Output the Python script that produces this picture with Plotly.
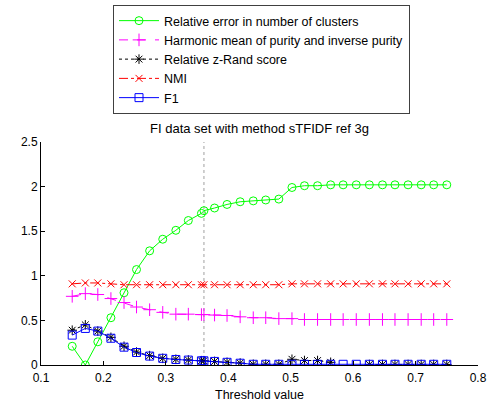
import plotly.graph_objects as go

# Threshold values (extra sample at the selected threshold 0.361)
threshold = [0.150, 0.171, 0.191, 0.212, 0.233, 0.253, 0.274, 0.295, 0.316, 0.336,
             0.357, 0.361, 0.378, 0.398, 0.419, 0.440, 0.460, 0.481, 0.502, 0.522,
             0.543, 0.564, 0.584, 0.605, 0.626, 0.647, 0.667, 0.688, 0.709, 0.729, 0.750]

rel_error = [0.21, 0.00, 0.26, 0.53, 0.81, 1.07, 1.28, 1.41, 1.51, 1.62,
             1.70, 1.73, 1.76, 1.80, 1.83, 1.84, 1.85, 1.86, 1.99, 2.01,
             2.01, 2.02, 2.02, 2.02, 2.02, 2.02, 2.02, 2.02, 2.02, 2.02, 2.02]

harmonic = [0.77, 0.80, 0.79, 0.745, 0.70, 0.65, 0.62, 0.59, 0.57, 0.57,
            0.565, 0.565, 0.56, 0.555, 0.54, 0.53, 0.53, 0.52, 0.52, 0.51,
            0.51, 0.51, 0.51, 0.51, 0.51, 0.51, 0.51, 0.51, 0.51, 0.51, 0.51]

zrand = [0.39, 0.45, 0.38, 0.31, 0.21, 0.145, 0.105, 0.075, 0.064, 0.056,
         0.048, 0.048, 0.04, 0.03, 0.022, 0.008, 0.008, 0.008, 0.064, 0.05,
         0.05, 0.03, None, None, 0.006, 0.006, 0.006, 0.006, 0.006, 0.006, 0.006]

nmi = [0.91, 0.92, 0.92, 0.91, 0.90, 0.90, 0.90, 0.90, 0.90, 0.90,
       0.90, 0.90, 0.90, 0.90, 0.90, 0.90, 0.90, 0.90, 0.91, 0.91,
       0.91, 0.91, 0.91, 0.91, 0.91, 0.91, 0.91, 0.91, 0.91, 0.91, 0.91]

f1 = [0.335, 0.41, 0.38, 0.30, 0.20, 0.14, 0.10, 0.075, 0.062, 0.055,
      0.047, 0.047, 0.04, 0.03, 0.02, 0.008, 0.008, 0.008, 0.008, 0.008,
      0.008, 0.008, 0.008, 0.008, 0.008, 0.008, 0.008, 0.008, 0.008, 0.008, 0.008]

selected_threshold = 0.361

x_ticks = [0.1, 0.2, 0.3, 0.4, 0.5, 0.6, 0.7, 0.8]
x_tick_text = ["0.1", "0.2", "0.3", "0.4", "0.5", "0.6", "0.7", "0.8"]
y_ticks = [0, 0.5, 1, 1.5, 2, 2.5]
y_tick_text = ["0", "0.5", "1", "1.5", "2", "2.5"]

FONT = "Liberation Sans, Arial, sans-serif"

fig = go.Figure()

fig.add_trace(go.Scatter(
    x=threshold, y=rel_error, name="Relative error in number of clusters",
    mode="lines+markers",
    line=dict(color="#00ff00", width=1),
    marker=dict(symbol="circle-open", size=8, color="#00ff00", line=dict(width=1)),
))
fig.add_trace(go.Scatter(
    x=threshold, y=harmonic, name="Harmonic mean of purity and inverse purity",
    mode="lines+markers",
    line=dict(color="#ff00ff", width=1, dash="dash"),
    marker=dict(symbol="cross-thin-open", size=9, color="#ff00ff", line=dict(width=1, color="#ff00ff")),
))
fig.add_trace(go.Scatter(
    x=threshold, y=zrand, name="Relative z-Rand score",
    mode="lines+markers",
    line=dict(color="black", width=1, dash="dot"),
    marker=dict(symbol="asterisk-open", size=8, color="black", line=dict(width=1, color="black")),
))
fig.add_trace(go.Scatter(
    x=threshold, y=nmi, name="NMI",
    mode="lines+markers",
    line=dict(color="#ff0000", width=1, dash="dashdot"),
    marker=dict(symbol="x-thin-open", size=7, color="#ff0000", line=dict(width=1, color="#ff0000")),
))
fig.add_trace(go.Scatter(
    x=threshold, y=f1, name="F1",
    mode="lines+markers",
    line=dict(color="#0000ff", width=1),
    marker=dict(symbol="square-open", size=8, color="#0000ff", line=dict(width=1)),
))

# Selected threshold marker line
fig.add_shape(type="line", x0=selected_threshold, x1=selected_threshold, y0=0, y1=2.5,
              xref="x", yref="y", line=dict(color="#a0a0a0", width=1, dash="dot"), layer="below")

fig.update_layout(
    width=493, height=403,
    margin=dict(l=41, r=15, t=142, b=38, autoexpand=False),
    paper_bgcolor="white", plot_bgcolor="white",
    font=dict(family=FONT, size=12, color="black"),
    title=dict(text="FI data set with method sTFIDF ref 3g", x=0.5, xref="paper",
               y=1 - 128 / 403, yref="container", xanchor="center", yanchor="middle",
               font=dict(size=13, family=FONT)),
    legend=dict(xref="container", yref="container", x=113 / 493, y=1 - 5 / 403,
                xanchor="left", yanchor="top", bgcolor="white",
                bordercolor="#404040", borderwidth=1, font=dict(size=12.5, family=FONT),
                tracegroupgap=0, itemwidth=40),
    showlegend=True,
)

fig.update_xaxes(range=[0.1, 0.8], tickvals=x_ticks, ticktext=x_tick_text,
                 showline=True, linecolor="black", linewidth=1, mirror=False,
                 ticks="inside", ticklen=4, tickcolor="black", ticklabelstandoff=2,
                 showgrid=False, zeroline=False,
                 title=dict(text="Threshold value", standoff=5, font=dict(size=12.5)))
fig.update_yaxes(range=[0, 2.5], tickvals=y_ticks, ticktext=y_tick_text,
                 showline=True, linecolor="black", linewidth=1, mirror=False,
                 ticks="inside", ticklen=4, tickcolor="black",
                 showgrid=False, zeroline=False)

fig.write_html("out.html")
